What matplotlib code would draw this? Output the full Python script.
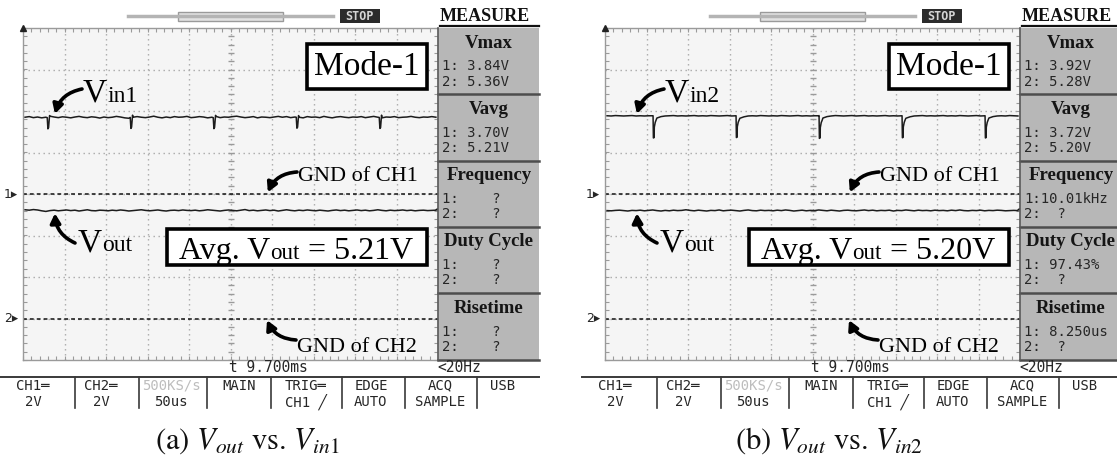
import numpy as np
import matplotlib
matplotlib.use('Agg')
import matplotlib.pyplot as plt
import matplotlib.transforms as mtransforms
from matplotlib.patches import Rectangle

plt.rcParams['mathtext.fontset'] = 'stix'

# ---------------- data ----------------
# sample instants (us); 50 us/div, 10 divisions on screen
t_us = np.arange(2.5, 500, 5.0)

vin1 = [3.70, 3.73, 3.68, 3.71, 3.67, 3.70, 3.75, 3.71, 3.68, 3.72,
        3.70, 3.67, 3.71, 3.74, 3.70, 3.68, 3.72, 3.70, 3.66, 3.71,
        3.68, 3.70, 3.74, 3.71, 3.67, 3.65, 3.70, 3.73, 3.70, 3.68,
        3.71, 3.75, 3.70, 3.67, 3.71, 3.68, 3.73, 3.70, 3.71, 3.74,
        3.68, 3.70, 3.73, 3.71, 3.67, 3.70, 3.74, 3.68, 3.71, 3.70,
        3.73, 3.75, 3.71, 3.68, 3.70, 3.73, 3.67, 3.71, 3.70, 3.68,
        3.71, 3.74, 3.70, 3.73, 3.68, 3.71, 3.70, 3.67, 3.73, 3.70,
        3.71, 3.68, 3.74, 3.70, 3.67, 3.71, 3.73, 3.70, 3.68, 3.71,
        3.70, 3.73, 3.68, 3.71, 3.74, 3.70, 3.67, 3.71, 3.70, 3.73,
        3.68, 3.70, 3.71, 3.74, 3.70, 3.68, 3.71, 3.70, 3.73, 3.70]
vin1_dip_t = [29.2, 30.0, 30.8, 32.0, 129.2, 130.0, 130.8, 132.0,
              229.2, 230.0, 230.8, 232.0, 329.2, 330.0, 330.8, 332.0,
              429.2, 430.0, 430.8, 432.0]
vin1_dip_v = [3.68, 3.14, 3.20, 3.78, 3.69, 3.16, 3.22, 3.80,
              3.68, 3.15, 3.21, 3.79, 3.70, 3.17, 3.22, 3.78,
              3.69, 3.16, 3.20, 3.80]

vout1 = [5.24, 5.22, 5.25, 5.23, 5.19, 5.16, 5.20, 5.22, 5.19, 5.21,
         5.23, 5.20, 5.22, 5.18, 5.21, 5.24, 5.20, 5.19, 5.22, 5.21,
         5.19, 5.22, 5.20, 5.23, 5.21, 5.18, 5.20, 5.22, 5.24, 5.21,
         5.19, 5.21, 5.23, 5.20, 5.18, 5.21, 5.22, 5.20, 5.23, 5.21,
         5.20, 5.22, 5.19, 5.21, 5.24, 5.22, 5.20, 5.18, 5.21, 5.23,
         5.21, 5.19, 5.22, 5.25, 5.20, 5.22, 5.19, 5.21, 5.23, 5.20,
         5.22, 5.18, 5.21, 5.24, 5.21, 5.19, 5.22, 5.20, 5.23, 5.21,
         5.19, 5.22, 5.20, 5.18, 5.21, 5.23, 5.20, 5.22, 5.19, 5.21,
         5.23, 5.20, 5.22, 5.19, 5.21, 5.24, 5.21, 5.19, 5.22, 5.20,
         5.21, 5.23, 5.20, 5.22, 5.19, 5.21, 5.22, 5.20, 5.21, 5.22]

vin2 = [3.77, 3.76, 3.78, 3.77, 3.76, 3.77, 3.78, 3.76, 3.77, 3.76,
        3.77, 3.77, 3.66, 3.73, 3.76, 3.77, 3.78, 3.76, 3.77, 3.76,
        3.77, 3.78, 3.76, 3.77, 3.76, 3.78, 3.77, 3.76, 3.77, 3.78,
        3.76, 3.77, 3.65, 3.72, 3.76, 3.77, 3.76, 3.78, 3.77, 3.76,
        3.77, 3.76, 3.78, 3.77, 3.76, 3.77, 3.78, 3.76, 3.77, 3.76,
        3.77, 3.77, 3.66, 3.73, 3.76, 3.78, 3.77, 3.76, 3.77, 3.78,
        3.76, 3.77, 3.78, 3.76, 3.77, 3.76, 3.77, 3.78, 3.76, 3.77,
        3.76, 3.77, 3.65, 3.72, 3.76, 3.77, 3.78, 3.76, 3.77, 3.76,
        3.77, 3.78, 3.76, 3.77, 3.76, 3.78, 3.77, 3.76, 3.77, 3.78,
        3.76, 3.77, 3.66, 3.73, 3.76, 3.77, 3.76, 3.78, 3.77, 3.76]
vin2_dip_t = [57.9, 58.3, 59.2, 59.4, 60.5, 61.8,
              157.9, 158.3, 159.2, 159.4, 160.5, 161.8,
              257.9, 258.3, 259.2, 259.4, 260.5, 261.8,
              357.9, 358.3, 359.2, 359.4, 360.5, 361.8,
              457.9, 458.3, 459.2, 459.4, 460.5, 461.8]
vin2_dip_v = [3.77, 2.70, 2.72, 3.22, 3.45, 3.58,
              3.77, 2.72, 2.74, 3.24, 3.46, 3.58,
              3.78, 2.68, 2.71, 3.20, 3.44, 3.57,
              3.77, 2.71, 2.73, 3.23, 3.45, 3.59,
              3.77, 2.70, 2.72, 3.22, 3.45, 3.58]

vout2 = [5.20, 5.19, 5.21, 5.22, 5.20, 5.18, 5.21, 5.20, 5.22, 5.19,
         5.21, 5.23, 5.20, 5.18, 5.21, 5.19, 5.22, 5.20, 5.21, 5.24,
         5.21, 5.19, 5.22, 5.20, 5.18, 5.21, 5.20, 5.23, 5.19, 5.21,
         5.22, 5.20, 5.18, 5.21, 5.23, 5.20, 5.19, 5.22, 5.20, 5.21,
         5.19, 5.22, 5.20, 5.23, 5.21, 5.18, 5.20, 5.22, 5.19, 5.21,
         5.20, 5.23, 5.21, 5.19, 5.22, 5.20, 5.18, 5.21, 5.22, 5.20,
         5.19, 5.21, 5.23, 5.20, 5.22, 5.19, 5.21, 5.20, 5.22, 5.18,
         5.21, 5.20, 5.23, 5.21, 5.19, 5.22, 5.20, 5.21, 5.19, 5.22,
         5.20, 5.21, 5.19, 5.22, 5.20, 5.23, 5.20, 5.19, 5.21, 5.20,
         5.22, 5.19, 5.21, 5.20, 5.22, 5.21, 5.19, 5.20, 5.21, 5.20]

volts_per_div = 2.0
ch1_gnd_div = 0.0
ch2_gnd_div = -3.0

measure_titles = ['Vmax', 'Vavg', 'Frequency', 'Duty Cycle', 'Risetime']
measure_a = [['1: 3.84V', '2: 5.36V'], ['1: 3.70V', '2: 5.21V'],
             ['1:    ?', '2:    ?'], ['1:    ?', '2:    ?'], ['1:    ?', '2:    ?']]
measure_b = [['1: 3.92V', '2: 5.28V'], ['1: 3.72V', '2: 5.20V'],
             ['1:10.01kHz', '2:  ?'], ['1: 97.43%', '2:  ?'], ['1: 8.250us', '2:  ?']]

button_top = ['CH1\u2550', 'CH2\u2550', '500KS/s', 'MAIN', 'TRIG\u2550', 'EDGE', 'ACQ', 'USB']
button_bot = ['2V', '2V', '50us', '', 'CH1 \u2571', 'AUTO', 'SAMPLE', '']

avg_vout_a = '5.21V'
avg_vout_b = '5.20V'

# ---------------- figure ----------------
W, H = 1117, 459
fig = plt.figure(figsize=(W / 100, H / 100), dpi=100)
ov = fig.add_axes([0, 0, 1, 1], zorder=5)
ov.set_xlim(0, W)
ov.set_ylim(H, 0)
ov.axis('off')
ov.patch.set_visible(False)

SERIF = 'Liberation Serif'
MONO = 'DejaVu Sans Mono'
TXT = '#262626'


def merge(t, v, dt, dv):
    tt = np.concatenate([np.asarray(t, float), np.asarray(dt, float)])
    vv = np.concatenate([np.asarray(v, float), np.asarray(dv, float)])
    idx = np.argsort(tt, kind='stable')
    return tt[idx], vv[idx]


def chain(prev, s, y, size, z=3):
    return ov.annotate(s, xy=(1, y), xycoords=(prev, 'data'), xytext=(0, 0),
                       textcoords='offset points', ha='left', va='baseline',
                       fontsize=size, family=SERIF, color='black', zorder=z)


def draw_panel(ox, vin_t, vin_v, vout_v, meas, in_sub, avg_txt, caption):
    # ---- screen ----
    ax = fig.add_axes([(ox + 23) / W, 1 - 360 / H, 415 / W, 332 / H], zorder=1)
    ax.set_xlim(0, 500)
    ax.set_ylim(-4, 4)
    ax.set_facecolor('#f5f5f5')
    for k in range(1, 10):
        ax.axvline(50 * k, ls=(0, (1, 2.6)), color='#a8a8a8', lw=1.0, zorder=1)
    for j in range(-3, 4):
        ax.axhline(j, ls=(0, (1, 2.6)), color='#a8a8a8', lw=1.0, zorder=1)
    ax.plot(np.full(41, 250.0), np.linspace(-4, 4, 41), ls='none', marker='_',
            ms=5, color='#9a9a9a', zorder=1)
    ax.set_xticks(np.arange(0, 501, 10))
    ax.set_yticks(np.arange(-4, 4.01, 0.2))
    ax.tick_params(direction='in', length=3, color='#9a9a9a', top=True, right=True,
                   labelbottom=False, labelleft=False)
    for sp in ax.spines.values():
        sp.set_color('#9a9a9a')
        sp.set_linewidth(1.0)
    # ground references
    ax.axhline(ch1_gnd_div, ls=(0, (2.5, 2)), color='#111111', lw=1.1, zorder=2)
    ax.axhline(ch2_gnd_div, ls=(0, (2.5, 2)), color='#111111', lw=1.1, zorder=2)
    # traces
    ax.plot(vin_t, np.asarray(vin_v) / volts_per_div + ch1_gnd_div, color='#1c1c1c',
            lw=1.1, zorder=3)
    ax.plot(t_us, np.asarray(vout_v) / volts_per_div + ch2_gnd_div, color='#1c1c1c',
            lw=1.1, zorder=3)
    bl = mtransforms.blended_transform_factory(ax.transAxes, ax.transData)
    ax.text(-0.012, ch1_gnd_div, '1\u25b8', transform=bl, ha='right', va='center',
            fontsize=9, family='DejaVu Sans', color=TXT, clip_on=False)
    ax.text(-0.012, ch2_gnd_div, '2\u25b8', transform=bl, ha='right', va='center',
            fontsize=9, family='DejaVu Sans', color=TXT, clip_on=False)
    ax.text(1.0, -0.33, '\u25c2', transform=bl, ha='center', va='center',
            fontsize=10, family='DejaVu Sans', color='#111111', clip_on=False)
    ax.plot([0], [4], marker='^', ms=5, color='#222222', clip_on=False, zorder=4)

    # ---- top status bar ----
    ov.plot([ox + 128, ox + 333], [16, 16], color='#b4b4b4', lw=2.5)
    ov.add_patch(Rectangle((ox + 178, 11.5), 105, 9, fc='#e2e2e2', ec='#9a9a9a', lw=1))
    ov.add_patch(Rectangle((ox + 340, 9), 40, 14, fc='#2b2b2b', ec='none'))
    ov.text(ox + 360, 16.5, 'STOP', ha='center', va='center', fontsize=8.5,
            family=MONO, weight='bold', color='#d5d5d5')

    # ---- measure panel ----
    mx0, mx1 = ox + 438, min(ox + 539, W)
    ov.text(mx0 + 2, 16.5, 'MEASURE', ha='left', va='center', fontsize=13,
            family=SERIF, weight='bold', color='#111111')
    ov.plot([mx0 + 2, mx1], [26, 26], color='#111111', lw=1.6)
    for i, title in enumerate(measure_titles):
        top = 28 + 66.3 * i
        ov.add_patch(Rectangle((mx0, top), ox + 539 - mx0, 66.3, fc='#b7b7b7', ec='none'))
        ov.plot([mx0, mx1], [top + 66.3, top + 66.3], color='#4d4d4d', lw=1.8)
        ov.text(ox + 489, top + 15, title, ha='center', va='center',
                fontsize=13.5, family=SERIF, weight='bold', color='#151515')
        ov.text(mx0 + 4, top + 38.5, meas[i][0], ha='left', va='center', fontsize=10,
                family=MONO, color=TXT)
        ov.text(mx0 + 4, top + 53.5, meas[i][1], ha='left', va='center', fontsize=10,
                family=MONO, color=TXT)
    ov.plot([mx0, mx0], [28, 360], color='#5a5a5a', lw=1.2)

    # ---- bottom bar ----
    ov.text(ox + 229, 367, 't 9.700ms', ha='left', va='center', fontsize=10.5,
            family=MONO, color=TXT)
    ov.text(ox + 437, 367, '<20Hz', ha='left', va='center', fontsize=10.5,
            family=MONO, color=TXT)
    ov.plot([ox, min(ox + 539, W)], [376.5, 376.5], color='#3a3a3a', lw=1.4)
    for x in [75, 139, 207, 271, 342, 405, 477]:
        ov.plot([ox + x, ox + x], [377, 408], color='#3a3a3a', lw=1.2)
    centers = [33, 101, 171, 239, 306, 371, 440, 503]
    for c, t1, t2 in zip(centers, button_top, button_bot):
        col = '#bdbdbd' if t1.startswith('500') else TXT
        ov.text(ox + c, 385.5, t1, ha='center', va='center', fontsize=10,
                family=MONO, color=col)
        if t2:
            ov.text(ox + c, 401.5, t2, ha='center', va='center', fontsize=10,
                    family=MONO, color=TXT)

    # ---- annotations ----
    ov.add_patch(Rectangle((ox + 307, 43.5), 120, 45.5, fc='white', ec='black',
                           lw=2.6, zorder=6))
    ov.text(ox + 367, 67, 'Mode-1', ha='center', va='center', fontsize=24,
            family=SERIF, color='black', zorder=7)

    ov.add_patch(Rectangle((ox + 167, 228.5), 260, 36.5, fc='white', ec='black',
                           lw=2.6, zorder=6))
    a1 = ov.text(ox + 179, 259, 'Avg. V', ha='left', va='baseline', fontsize=23,
                 family=SERIF, color='black', zorder=7)
    a2 = chain(a1, 'out', 259, 16.5, z=7)
    chain(a2, ' = ' + avg_txt, 259, 23, z=7)

    v1 = ov.text(ox + 83, 102, 'V', ha='left', va='baseline', fontsize=24,
                 family=SERIF, color='black')
    chain(v1, in_sub, 102, 17)
    v2 = ov.text(ox + 78, 251, 'V', ha='left', va='baseline', fontsize=24,
                 family=SERIF, color='black')
    chain(v2, 'out', 251, 17)
    ov.text(ox + 298, 181, 'GND of CH1', ha='left', va='baseline', fontsize=16,
            family=SERIF, color='black')
    ov.text(ox + 297, 352, 'GND of CH2', ha='left', va='baseline', fontsize=16,
            family=SERIF, color='black')

    ap = dict(arrowstyle='-|>,head_length=0.55,head_width=0.3', color='black', lw=2.6,
              shrinkA=0, shrinkB=0)
    arrows = [((38.5, 3.70 / volts_per_div + ch1_gnd_div + 0.08), (82, 89), 0.3),
              ((38.5, 5.21 / volts_per_div + ch2_gnd_div - 0.07), (75, 243), -0.3),
              ((295, ch1_gnd_div + 0.04), (297, 172), 0.3),
              ((294, ch2_gnd_div - 0.04), (296, 340), -0.3)]
    for (xy, tail, rad) in arrows:
        ov.annotate('', xy=xy, xycoords=ax.transData, xytext=(ox + tail[0], tail[1]),
                    textcoords=ov.transData,
                    arrowprops=dict(ap, connectionstyle='arc3,rad=%s' % rad))

    # ---- caption ----
    ov.text(ox + 247, 441, caption, ha='center', va='center', fontsize=22,
            family='STIXGeneral', color='#111111')


vin1_t, vin1_all = merge(t_us, vin1, vin1_dip_t, vin1_dip_v)
vin2_t, vin2_all = merge(t_us, vin2, vin2_dip_t, vin2_dip_v)

draw_panel(0, vin1_t, vin1_all, vout1, measure_a, 'in1', avg_vout_a,
           r'(a) $V_{out}$ vs. $V_{in1}$')
draw_panel(582, vin2_t, vin2_all, vout2, measure_b, 'in2', avg_vout_b,
           r'(b) $V_{out}$ vs. $V_{in2}$')

fig.savefig('out.png', dpi=100, facecolor='white')
